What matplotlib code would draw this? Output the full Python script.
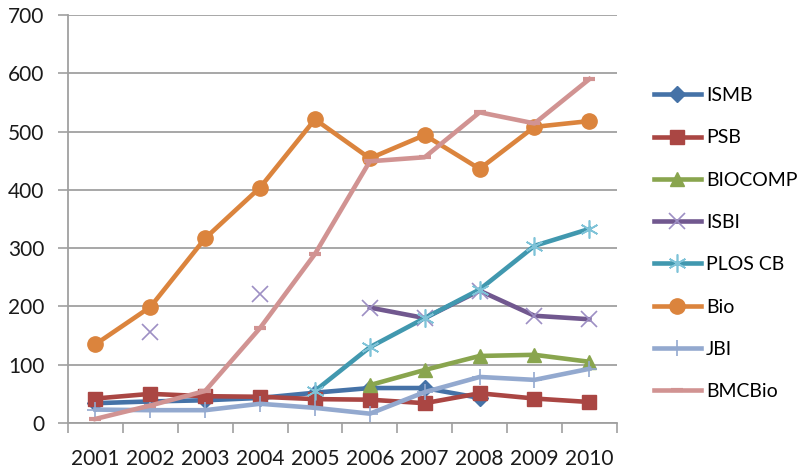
import numpy as np
import matplotlib.pyplot as plt

plt.rcParams['font.family'] = ['Lato', 'DejaVu Sans']

years = ['2001', '2002', '2003', '2004', '2005', '2006', '2007', '2008', '2009', '2010']
nan = np.nan

ismb = [34, 37, 39, 43, 52, 60, 60, 43, nan, nan]
psb = [42, 50, 46, 45, 41, 40, 34, 51, 42, 36]
biocomp = [nan, nan, nan, nan, nan, 65, 91, 115, 117, 105]
isbi = [nan, 156, nan, 222, nan, 198, 180, 227, 184, 178]
plos_cb = [nan, nan, nan, nan, 55, 130, 180, 229, 304, 333]
bio = [135, 199, 317, 404, 521, 454, 494, 436, 508, 518]
jbi = [23, 22, 22, 33, 26, 16, 53, 79, 74, 93]
bmcbio = [7, 30, 55, 163, 290, 449, 456, 533, 514, 590]

series = [
    ('ISMB', ismb, '#4572A7', 'D', 8, '#4572A7'),
    ('PSB', psb, '#AA4643', 's', 10, '#AA4643'),
    ('BIOCOMP', biocomp, '#89A54E', '^', 10, '#89A54E'),
    ('ISBI', isbi, '#71588F', 'x', 12, '#9d8fc4'),
    ('PLOS CB', plos_cb, '#4198AF', (6, 2, 0), 13, '#7fc3d8'),
    ('Bio', bio, '#DB843D', 'o', 11, '#DB843D'),
    ('JBI', jbi, '#93A9CF', '+', 12, '#93A9CF'),
    ('BMCBio', bmcbio, '#D19392', '_', 8, '#D19392'),
]

fig = plt.figure(figsize=(8, 4.73), dpi=100)
ax = fig.add_axes([0.085, 0.1057, 0.686, 0.8626])

x = np.arange(1, len(years) + 1)
for name, vals, color, marker, ms, mcol in series:
    thin = marker in ('x', '+', (6, 2, 0))
    ax.plot(x, vals, color=color, lw=3.3, marker=marker, markersize=ms,
            markerfacecolor=mcol, markeredgecolor=mcol,
            markeredgewidth=1.2 if thin else (3 if marker == '_' else 1),
            label=name, solid_joinstyle='round')

ax.set_xlim(0.5, 10.5)
ax.set_ylim(0, 700)
ax.set_yticks(range(0, 701, 100))
ax.set_xticks(x)
ax.set_xticklabels(years)
ax.set_xticks(np.arange(0.5, 11, 1), minor=True)
ax.tick_params(axis='x', which='minor', length=7, width=1.2, color='#a0a0a0')
ax.tick_params(axis='y', length=7, width=1.2, color='#a0a0a0', pad=10, labelsize=15, labelcolor='#1a1a1a')
ax.xaxis.set_tick_params(which='major', length=0, pad=19, labelsize=15, labelcolor='#1a1a1a')

ax.grid(axis='y', color='#a0a0a0', lw=1.3)
ax.set_axisbelow(True)
for s in ('top', 'right'):
    ax.spines[s].set_visible(False)
for s in ('left', 'bottom'):
    ax.spines[s].set_color('#a0a0a0')
    ax.spines[s].set_linewidth(1.3)

fig.legend(loc='center left', bbox_to_anchor=(0.795, 0.485), frameon=False,
           fontsize=14, handlelength=2.45, handletextpad=0.25, labelspacing=1.3)

fig.savefig('out.png', dpi=100)
